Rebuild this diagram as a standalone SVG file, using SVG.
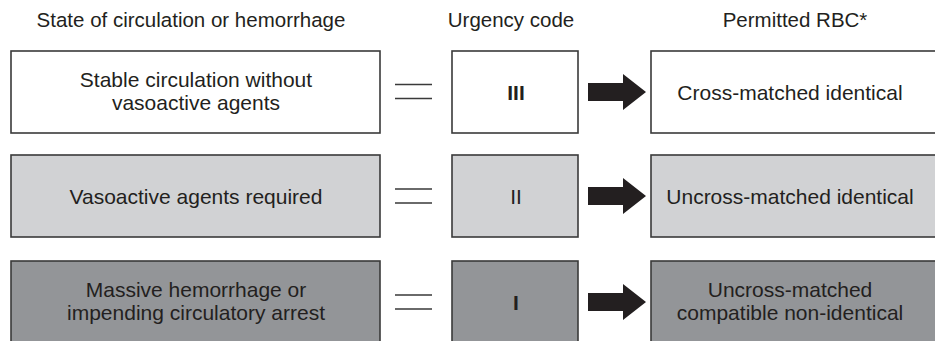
<svg xmlns="http://www.w3.org/2000/svg" width="935" height="341" viewBox="0 0 935 341">
  <style>
    text { font-family: "Liberation Sans", Arial, sans-serif; font-size: 21px; fill: #231f20; text-anchor: middle; }
    .hd { font-size: 20.5px; }
    .box { stroke: #3a3a3a; stroke-width: 1.6; }
    .r1 { fill: #ffffff; }
    .r2 { fill: #d1d2d4; }
    .r3 { fill: #939598; }
    .eq { stroke: #3a3a3a; stroke-width: 1.6; fill: none; }
    .arrow { fill: #231f20; }
    .num { font-weight: bold; }
  </style>
  <defs>
    <path id="arr" d="M588,-9 H623 V-18 L646,0 L623,18 V9 H588 Z"/>
    <path id="eqs" d="M395,-7 H432 M395,7 H432"/>
  </defs>

  <g id="headers">
    <text class="hd" x="191" y="27">State of circulation or hemorrhage</text>
    <text class="hd" x="511" y="27">Urgency code</text>
    <text class="hd" x="795" y="27">Permitted RBC*</text>
  </g>

  <!-- Row 1 -->
  <g id="state1">
    <rect class="box r1" x="11" y="51" width="369" height="82"/>
    <text x="196" y="87">Stable circulation without</text>
    <text x="196" y="110">vasoactive agents</text>
  </g>
  <g id="code3">
    <rect class="box r1" x="452" y="51" width="126" height="82"/>
    <text class="num" x="516" y="100">III</text>
  </g>
  <g id="rbc1">
    <rect class="box r1" x="651" y="51" width="290" height="82"/>
    <text x="790" y="100">Cross-matched identical</text>
  </g>

  <!-- Row 2 -->
  <g id="state2">
    <rect class="box r2" x="11" y="155" width="369" height="82"/>
    <text x="196" y="204">Vasoactive agents required</text>
  </g>
  <g id="code2">
    <rect class="box r2" x="452" y="155" width="126" height="82"/>
    <text x="516" y="204">II</text>
  </g>
  <g id="rbc2">
    <rect class="box r2" x="651" y="155" width="290" height="82"/>
    <text x="790" y="204">Uncross-matched identical</text>
  </g>

  <!-- Row 3 -->
  <g id="state3">
    <rect class="box r3" x="11" y="261" width="369" height="84"/>
    <text x="196" y="297">Massive hemorrhage or</text>
    <text x="196" y="320">impending circulatory arrest</text>
  </g>
  <g id="code1">
    <rect class="box r3" x="452" y="261" width="126" height="84"/>
    <text class="num" x="516" y="310">I</text>
  </g>
  <g id="rbc3">
    <rect class="box r3" x="651" y="261" width="290" height="84"/>
    <text x="790" y="297">Uncross-matched</text>
    <text x="790" y="320">compatible non-identical</text>
  </g>

  <g id="connectors">
    <use href="#eqs" class="eq" transform="translate(0,91.5)"/>
    <use href="#eqs" class="eq" transform="translate(0,196)"/>
    <use href="#eqs" class="eq" transform="translate(0,302)"/>
    <use href="#arr" class="arrow" transform="translate(0,92)"/>
    <use href="#arr" class="arrow" transform="translate(0,196)"/>
    <use href="#arr" class="arrow" transform="translate(0,302)"/>
  </g>
</svg>
